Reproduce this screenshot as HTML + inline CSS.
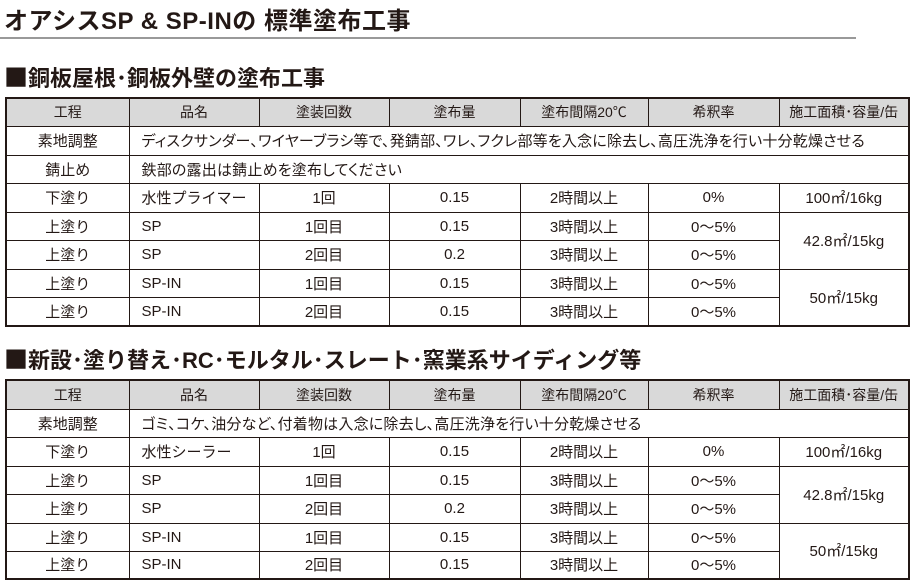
<!DOCTYPE html>
<html><head><meta charset="utf-8"><style>
body{margin:0;width:912px;height:584px;background:#fff;position:relative;overflow:hidden;font-family:"Liberation Sans","Noto Sans CJK JP",sans-serif;color:#231815}
.t{position:absolute;left:4px;top:1px;font-size:24px;font-weight:bold;letter-spacing:0.5px;white-space:nowrap}
.hr{position:absolute;left:0;top:37px;width:856px;height:2px;background:#999}
.h{position:absolute;left:4px;font-size:22px;font-weight:bold;white-space:nowrap}
.sq{font-family:"Noto Sans CJK JP",sans-serif;font-size:24px}
table{position:absolute;left:5px;width:903px;border-collapse:collapse;table-layout:fixed;border:2px solid #231815}
td{border:1px solid #231815;font-size:15px;text-align:center;padding:0;white-space:nowrap;overflow:hidden}
tr.hd td{background:#d9d9d9;font-size:14px}
td.l{text-align:left;padding-left:12px}
td.p{font-feature-settings:"palt";letter-spacing:0.2px}
</style></head><body>
<div class="t">オアシスSP &amp; SP-INの 標準塗布工事</div>
<div class="hr"></div>
<div class="h" style="top:58px"><span class="sq">■</span>銅板屋根･銅板外壁の塗布工事</div>
<table style="top:97px">
<colgroup><col style="width:123px"><col style="width:130px"><col style="width:130px"><col style="width:131px"><col style="width:128px"><col style="width:131px"><col style="width:130px"></colgroup>
<tr class="hd" style="height:28px"><td>工程</td><td>品名</td><td>塗装回数</td><td>塗布量</td><td>塗布間隔20℃</td><td>希釈率</td><td>施工面積･容量/缶</td></tr>
<tr style="height:29px"><td>素地調整</td><td colspan="6" class="l p">ディスクサンダー、ワイヤーブラシ等で、発錆部、ワレ、フクレ部等を入念に除去し、高圧洗浄を行い十分乾燥させる</td></tr>
<tr style="height:28px"><td>錆止め</td><td colspan="6" class="l p">鉄部の露出は錆止めを塗布してください</td></tr>
<tr style="height:29px"><td>下塗り</td><td class="l">水性プライマー</td><td>1回</td><td>0.15</td><td>2時間以上</td><td>0%</td><td>100㎡/16kg</td></tr>
<tr style="height:28px"><td>上塗り</td><td class="l">SP</td><td>1回目</td><td>0.15</td><td>3時間以上</td><td>0～5%</td><td rowspan="2">42.8㎡/15kg</td></tr>
<tr style="height:29px"><td>上塗り</td><td class="l">SP</td><td>2回目</td><td>0.2</td><td>3時間以上</td><td>0～5%</td></tr>
<tr style="height:28px"><td>上塗り</td><td class="l">SP-IN</td><td>1回目</td><td>0.15</td><td>3時間以上</td><td>0～5%</td><td rowspan="2">50㎡/15kg</td></tr>
<tr style="height:29px"><td>上塗り</td><td class="l">SP-IN</td><td>2回目</td><td>0.15</td><td>3時間以上</td><td>0～5%</td></tr>
</table>
<div class="h" style="top:340px"><span class="sq">■</span>新設･塗り替え･RC･モルタル･スレート･窯業系サイディング等</div>
<table style="top:379px">
<colgroup><col style="width:123px"><col style="width:130px"><col style="width:130px"><col style="width:131px"><col style="width:128px"><col style="width:131px"><col style="width:130px"></colgroup>
<tr class="hd" style="height:29px"><td>工程</td><td>品名</td><td>塗装回数</td><td>塗布量</td><td>塗布間隔20℃</td><td>希釈率</td><td>施工面積･容量/缶</td></tr>
<tr style="height:28px"><td>素地調整</td><td colspan="6" class="l p">ゴミ、コケ、油分など、付着物は入念に除去し、高圧洗浄を行い十分乾燥させる</td></tr>
<tr style="height:29px"><td>下塗り</td><td class="l">水性シーラー</td><td>1回</td><td>0.15</td><td>2時間以上</td><td>0%</td><td>100㎡/16kg</td></tr>
<tr style="height:28px"><td>上塗り</td><td class="l">SP</td><td>1回目</td><td>0.15</td><td>3時間以上</td><td>0～5%</td><td rowspan="2">42.8㎡/15kg</td></tr>
<tr style="height:29px"><td>上塗り</td><td class="l">SP</td><td>2回目</td><td>0.2</td><td>3時間以上</td><td>0～5%</td></tr>
<tr style="height:28px"><td>上塗り</td><td class="l">SP-IN</td><td>1回目</td><td>0.15</td><td>3時間以上</td><td>0～5%</td><td rowspan="2">50㎡/15kg</td></tr>
<tr style="height:28px"><td>上塗り</td><td class="l">SP-IN</td><td>2回目</td><td>0.15</td><td>3時間以上</td><td>0～5%</td></tr>
</table>
</body></html>
